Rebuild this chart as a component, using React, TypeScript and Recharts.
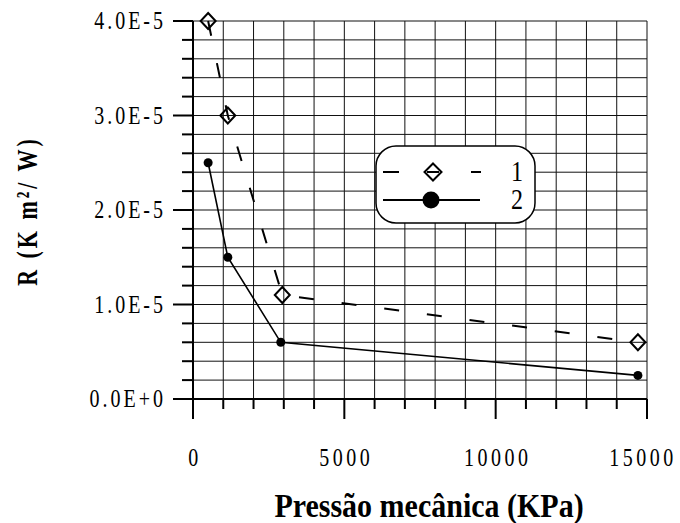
import * as React from 'react';
import { ScatterChart, Scatter, CartesianGrid, XAxis, YAxis } from 'recharts';

// pressão mecânica (KPa) x resistência térmica R (K m²/W)
const pressure1 = [500, 1150, 2950, 14700];
const resist1 = [4.0e-5, 3.0e-5, 1.1e-5, 6.0e-6];
const pressure2 = [500, 1150, 2900, 14700];
const resist2 = [2.5e-5, 1.5e-5, 6.0e-6, 2.5e-6];

const xTicks = [0, 1000, 2000, 3000, 4000, 5000, 6000, 7000, 8000, 9000, 10000, 11000, 12000, 13000, 14000, 15000];
const xLabels = ['0', '5000', '10000', '15000'];
const yTicks = [
  0, 2e-6, 4e-6, 6e-6, 8e-6, 1e-5, 1.2e-5, 1.4e-5, 1.6e-5, 1.8e-5, 2e-5,
  2.2e-5, 2.4e-5, 2.6e-5, 2.8e-5, 3e-5, 3.2e-5, 3.4e-5, 3.6e-5, 3.8e-5, 4e-5,
];
const yLabels = ['0.0E+0', '1.0E-5', '2.0E-5', '3.0E-5', '4.0E-5'];
const seriesNames = ['1', '2'];

const series1 = pressure1.map((x, i) => ({ x, y: resist1[i] }));
const series2 = pressure2.map((x, i) => ({ x, y: resist2[i] }));

const FONT = '"Liberation Serif", "Times New Roman", serif';

// texto esticado na vertical, como no original
function SText({ x, y, size, sy, spacing = 0, anchor = 'start', bold = false, rotate = 0, children }: any) {
  return (
    <text
      transform={`translate(${x},${y}) rotate(${rotate}) scale(1,${sy})`}
      fontFamily={FONT}
      fontSize={size}
      fontWeight={bold ? 'bold' : 'normal'}
      letterSpacing={spacing}
      textAnchor={anchor}
      fill="#000"
    >
      {children}
    </text>
  );
}

function XTick({ x, y, payload }: any) {
  const v = payload.value;
  const major = v % 5000 === 0;
  return (
    <g>
      <line x1={x} y1={y} x2={x} y2={y + (major ? 20 : 10)} stroke="#000" strokeWidth={2} />
      {major && (
        <SText x={v === 15000 ? x - 4 : x + 2} y={y + 67} size={20} sy={1.25} spacing={3.5} anchor="middle">
          {xLabels[Math.round(v / 5000)]}
        </SText>
      )}
    </g>
  );
}

function YTick({ x, y, payload }: any) {
  const k = payload.value / 1e-5;
  const major = Math.abs(k - Math.round(k)) < 1e-6;
  return (
    <g>
      <line x1={x - (major ? 20 : 11)} y1={y} x2={x} y2={y} stroke="#000" strokeWidth={2} />
      {major && (
        <SText x={x - 27} y={y + 8} size={20} sy={1.25} spacing={3} anchor="end">
          {yLabels[Math.round(k)]}
        </SText>
      )}
    </g>
  );
}

function Diamond({ cx, cy }: any) {
  return (
    <path
      d={`M${cx},${cy - 8} L${cx + 7.5},${cy} L${cx},${cy + 8} L${cx - 7.5},${cy} Z`}
      fill="none"
      stroke="#000"
      strokeWidth={2}
    />
  );
}

function Dot({ cx, cy }: any) {
  return <circle cx={cx} cy={cy} r={4.5} fill="#000" />;
}

function LegendBox() {
  return (
    <svg width={170} height={90} style={{ position: 'absolute', left: 370, top: 140 }}>
      <rect x={6} y={6} width={159} height={77} rx={20} ry={20} fill="#fff" stroke="#000" strokeWidth={1.5} />
      {/* série 1 */}
      <line x1={13} y1={32} x2={29} y2={32} stroke="#000" strokeWidth={2} />
      <line x1={57} y1={32} x2={69} y2={32} stroke="#000" strokeWidth={2} />
      <path d="M63,23.5 L71.5,32 L63,40.5 L54.5,32 Z" fill="none" stroke="#000" strokeWidth={2} />
      <line x1={101} y1={32} x2={111} y2={32} stroke="#000" strokeWidth={2} />
      <SText x={147} y={41} size={24} sy={1.2} anchor="middle">{seriesNames[0]}</SText>
      {/* série 2 */}
      <line x1={13} y1={60} x2={110} y2={60} stroke="#000" strokeWidth={2} />
      <circle cx={61} cy={60} r={8.5} fill="#000" />
      <SText x={147} y={69} size={24} sy={1.2} anchor="middle">{seriesNames[1]}</SText>
    </svg>
  );
}

export default function App() {
  return (
    <div style={{ position: 'absolute', left: 0, top: 0, width: 680, height: 523, background: '#fff' }}>
      <ScatterChart width={680} height={523} margin={{ top: 21, right: 33, bottom: 0, left: 0 }}>
        <CartesianGrid stroke="#111" strokeWidth={1} />
        <XAxis
          type="number"
          dataKey="x"
          domain={[0, 15000]}
          ticks={xTicks}
          interval={0}
          height={124}
          tickSize={0}
          tickMargin={0}
          tickLine={false}
          tick={<XTick />}
          axisLine={{ stroke: '#000', strokeWidth: 2 }}
          label={{
            content: () => (
              <SText x={429} y={517} size={30} sy={1.14} bold anchor="middle">
                Pressão mecânica (KPa)
              </SText>
            ),
          }}
        />
        <YAxis
          type="number"
          dataKey="y"
          domain={[0, 4e-5]}
          ticks={yTicks}
          interval={0}
          width={193}
          tickSize={0}
          tickMargin={0}
          tickLine={false}
          tick={<YTick />}
          axisLine={{ stroke: '#000', strokeWidth: 2 }}
          label={{
            content: () => (
              <SText x={37} y={211} size={22} sy={1.35} spacing={3} bold rotate={-90} anchor="middle">
                R (K m²/ W)
              </SText>
            ),
          }}
        />
        <Scatter
          data={series1}
          fill="#000"
          line={{ stroke: '#000', strokeWidth: 2, strokeDasharray: '15 28' }}
          lineType="joint"
          shape={<Diamond />}
          isAnimationActive={false}
        />
        <Scatter
          data={series2}
          fill="#000"
          line={{ stroke: '#000', strokeWidth: 1.6 }}
          lineType="joint"
          shape={<Dot />}
          isAnimationActive={false}
        />
      </ScatterChart>
      <LegendBox />
    </div>
  );
}
